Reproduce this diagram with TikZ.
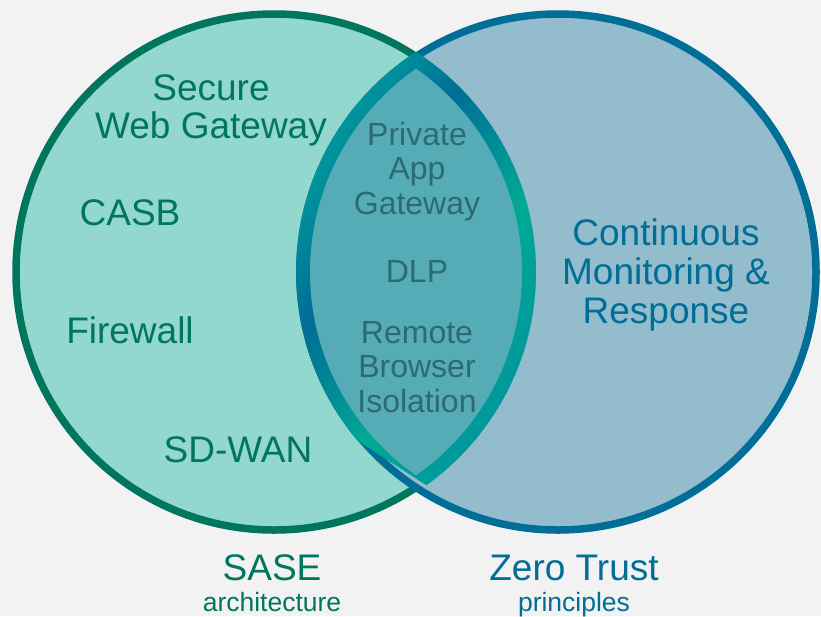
\documentclass[tikz,border=0pt]{standalone}
\usepackage{fontspec}
\setmainfont{Liberation Sans}
\definecolor{bg}{HTML}{F2F2F2}
\definecolor{lfill}{HTML}{93D8CE}
\definecolor{lline}{HTML}{00765F}
\definecolor{rfill}{HTML}{93BCCD}
\definecolor{rline}{HTML}{006E96}
\definecolor{lensfill}{HTML}{55ABB6}
\definecolor{lenstext}{HTML}{2D6B74}
\definecolor{gT}{HTML}{00969C}
\definecolor{gB}{HTML}{006E96}
\definecolor{gG}{HTML}{00AA96}
\begin{document}
\begin{tikzpicture}[x=1pt,y=-1pt,
  setcircle/.style={circle, inner sep=0pt, outer sep=0pt, minimum size=516pt, line width=7.5pt},
  ltext/.style={text=lline, font=\fontsize{37}{38}\selectfont, align=center, anchor=base, inner sep=0pt},
  mtext/.style={text=lenstext, font=\fontsize{32}{34.3}\selectfont, align=center, anchor=base, inner sep=0pt},
  rtext/.style={text=rline, font=\fontsize{37}{39}\selectfont, align=center, anchor=base, inner sep=0pt},
  subtext/.style={font=\fontsize{26.5}{28}\selectfont, anchor=base, inner sep=0pt}]
\useasboundingbox (0,0) rectangle (821,616);
\fill[bg] (0,0) rectangle (821,616);
\coordinate (L) at (274,272);
\coordinate (R) at (558,272);
% the two sets
\node[setcircle, draw=lline, fill=lfill] (sase) at (L) {};
\node[setcircle, draw=rline, fill=rfill] (zt) at (R) {};
% gradient border of the overlap
\begin{scope}
  \clip (L) circle[radius=262];
  \clip (R) circle[radius=262];
  \foreach \i in {0,...,150} {
    \pgfmathsetmacro\ta{-130+2.5*\i}
    \pgfmathsetmacro\tb{\ta+3.2}
    \pgfmathsetmacro\tm{\ta+1.25}
    \pgfmathtruncatemacro\seg{\tm<0 ? 0 : (\tm<115 ? 1 : 2)}
    \ifcase\seg
      \pgfmathsetmacro\p{max(0,min(100,(\tm+80)/80*100))}
      \colorlet{sc}{gB!\p!gT}
    \or
      \pgfmathsetmacro\p{max(0,min(100,\tm/115*100))}
      \colorlet{sc}{gG!\p!gB}
    \or
      \pgfmathsetmacro\p{max(0,min(100,(\tm-115)/100*100))}
      \colorlet{sc}{gT!\p!gG}
    \fi
    \fill[sc] ({650+0.84*\ta},{-204+0.543*\ta}) -- ({650+0.84*\tb},{-204+0.543*\tb})
      -- ({270+0.84*\tb},{384+0.543*\tb}) -- ({270+0.84*\ta},{384+0.543*\ta}) -- cycle;
  }
\end{scope}
% inner fill of the overlap
\begin{scope}
  \clip (L) circle[radius=248];
  \fill[lensfill] (R) circle[radius=248];
\end{scope}
% left texts (base = last line)
\node[ltext] (swg) at (211,138) {Secure\\Web Gateway};
\node[ltext] (casb) at (130,225) {CASB};
\node[ltext] (fw) at (130,343) {Firewall};
\node[ltext] (sdwan) at (238,462) {SD-WAN};
% overlap texts
\node[mtext] (pag) at (417,214) {Private\\App\\Gateway};
\node[mtext] (dlp) at (417,282) {DLP};
\node[mtext] (rbi) at (417,412) {Remote\\Browser\\Isolation};
% right texts
\node[rtext] (cmr) at (666,323) {Continuous\\Monitoring \&\\Response};
% captions
\node[ltext] (sasel) at (272,580) {SASE};
\node[subtext, text=lline] (arch) at (272,611) {architecture};
\node[rtext] (ztl) at (574,580) {Zero Trust};
\node[subtext, text=rline] (princ) at (574,611) {principles};
\end{tikzpicture}
\end{document}
